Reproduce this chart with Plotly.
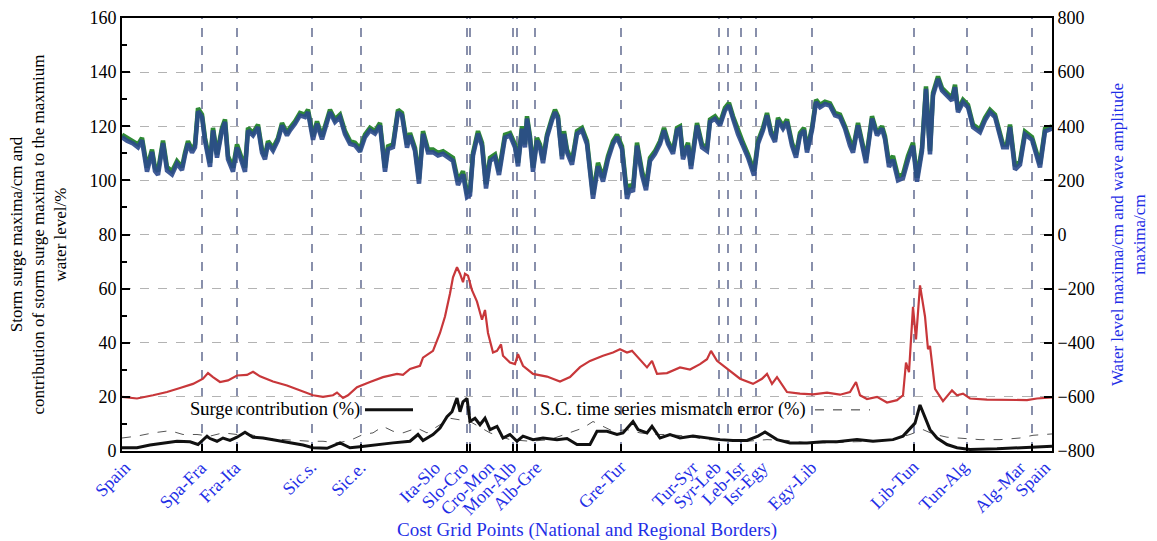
import plotly.graph_objects as go

# ---------------- data (x = coast grid point index) ----------------
wl_x = [0, 5, 11, 16, 20, 25, 30, 33, 36, 41, 45, 50, 55, 60, 63, 66, 70, 73, 76, 80,
        83, 88, 91, 95, 100, 103, 106, 111, 115, 118, 123, 126, 131, 136, 140, 143, 146, 151, 156, 160,
        165, 168, 173, 178, 183, 186, 191, 195, 200, 208, 213, 218, 223, 228, 233, 238, 243, 248, 253, 258,
        263, 266, 271, 276, 280, 285, 288, 293, 297, 301, 306, 311, 316, 321, 326, 331, 336, 341, 345, 348,
        351, 356, 360, 364, 368, 373, 377,
        383, 388, 393, 396, 400, 403, 405, 408, 411, 415, 418, 421, 425, 430, 433, 436, 440, 442, 445, 450,
        455, 460, 465, 471, 476, 481, 486, 491, 495, 500, 505, 508, 511, 515, 520, 524, 528, 533, 538, 542,
        546, 551, 555, 558, 561, 566, 569, 575, 580, 585, 588, 593, 598, 603, 607, 611, 616, 621, 626, 632,
        636, 641, 645, 649, 653, 656, 661, 665, 670, 674, 678, 682, 685, 690, 694, 698, 703, 708, 713, 718,
        723, 728, 731, 736, 740, 744, 750, 755, 760, 763, 767, 771, 776, 781, 786, 791, 795, 800, 804, 808,
        811, 816, 820, 825, 830, 833, 836, 841, 846, 851, 858, 863, 868, 873, 878, 881, 885, 888, 893, 898,
        903, 910, 918, 923, 930]

water_level_max = [369, 357, 345, 333, 357, 247, 314, 247, 234, 347, 249, 234, 271, 249, 302, 345, 314, 333, 467, 443,
                   357, 265, 394, 296, 394, 425, 290, 247, 333, 302, 247, 394, 375, 406, 314, 290, 345, 320, 357, 412,
                   375, 394, 418, 449, 443, 461, 363, 418, 363, 461, 425, 443, 382, 345, 339, 318, 369, 394, 382, 412,
                   247, 326, 333, 461, 449, 333, 375, 320, 204, 382, 314, 314, 302, 308, 296, 283, 198, 234, 155, 161,
                   302, 382, 339, 186, 283, 296, 234,
                   369, 375, 333, 265, 400, 333, 437, 363, 247, 357, 333, 277, 369, 431, 461, 437, 290, 382, 314, 271,
                   382, 394, 345, 148, 265, 210, 290, 345, 369, 326, 148, 185, 173, 339, 234, 179, 283, 308, 345, 394,
                   345, 308, 394, 400, 290, 339, 255, 412, 333, 320, 425, 437, 412, 468, 486, 437, 382, 339, 296, 234,
                   345, 394, 449, 382, 352, 431, 400, 425, 339, 296, 375, 394, 314, 394, 498, 479, 491, 485, 449, 443,
                   400, 339, 314, 412, 345, 277, 437, 375, 400, 363, 265, 290, 216, 222, 290, 339, 210, 320, 547, 308,
                   523, 584, 541, 523, 504, 553, 461, 498, 479, 406, 388, 431, 461, 443, 369, 333, 333, 406, 253, 270,
                   380, 360, 260, 390, 400]

wave_amp_max = [360, 346, 336, 322, 348, 232, 305, 234, 220, 338, 236, 222, 262, 238, 293, 336, 303, 322, 455, 434,
                346, 250, 385, 284, 385, 416, 278, 232, 322, 291, 232, 384, 366, 397, 303, 278, 336, 310, 348, 403,
                366, 385, 409, 440, 434, 452, 350, 409, 352, 452, 416, 434, 371, 335, 329, 306, 360, 385, 373, 403,
                232, 315, 323, 452, 440, 321, 366, 309, 188, 372, 303, 304, 292, 298, 285, 272, 183, 222, 138, 146,
                292, 372, 328, 170, 272, 286, 220,
                358, 366, 322, 252, 391, 322, 428, 352, 232, 347, 322, 264, 360, 422, 452, 428, 278, 372, 303, 258,
                372, 385, 334, 132, 252, 196, 278, 335, 360, 315, 132, 170, 158, 328, 220, 164, 272, 298, 335, 385,
                335, 298, 385, 391, 278, 329, 242, 403, 322, 309, 416, 428, 403, 459, 477, 428, 371, 328, 284, 218,
                335, 385, 440, 372, 342, 422, 391, 416, 328, 284, 366, 385, 303, 385, 489, 470, 482, 476, 440, 434,
                391, 328, 303, 403, 335, 264, 428, 366, 391, 352, 250, 276, 200, 208, 276, 328, 195, 309, 538, 296,
                514, 575, 532, 514, 495, 544, 452, 489, 470, 397, 378, 422, 452, 434, 358, 322, 322, 397, 240, 258,
                370, 350, 248, 381, 391]

contrib_x = [0, 15, 31, 45, 58, 71, 81, 86, 91, 98, 106, 115, 125, 131, 138, 151, 165, 178, 191, 201,
             211, 215, 221, 226, 235, 248, 261, 275, 281, 288, 298, 301, 311, 318, 323, 328, 331, 335, 338, 341,
             343, 346, 350, 355, 360, 363, 366, 371, 375, 379, 381, 388, 393, 396, 401, 411, 425, 438, 448, 458,
             468, 481, 491, 498, 505, 510, 516, 525, 530, 535, 545, 558, 568, 578, 585, 589, 595, 605, 618, 631,
             640, 645, 650, 655, 665, 678, 691, 705, 718, 728, 734, 738, 745, 755, 765, 775, 781, 784, 787, 791,
             794, 798, 803, 806, 808, 813, 821, 830, 835, 841, 848, 865, 885, 905, 915, 925, 930]
contribution_pct = [20.0, 19.4, 20.6, 21.8, 23.3, 24.8, 26.7, 28.8, 27.3, 25.5,
                    26.1, 27.9, 28.1, 29.3, 27.6, 25.7, 24.2, 22.4, 20.6, 20.0,
                    20.6, 21.6, 19.6, 20.6, 23.6, 25.5, 27.3, 28.5, 28.1, 30.3,
                    31.5, 34.5, 37.0, 43.6, 49.7, 58.2, 64.2, 67.9, 65.5, 62.4,
                    65.5, 64.8, 59.4, 55.2, 48.5, 52.1, 43.6, 36.4, 37.0, 39.4,
                    35.2, 32.7, 32.1, 35.8, 31.5, 28.5, 27.5, 25.7, 27.3, 31.0,
                    33.3, 35.2, 36.4, 37.6, 36.4, 37.0, 34.5, 30.9, 33.3, 28.5,
                    28.8, 30.9, 30.1, 32.1, 33.9, 37.0, 33.3, 30.3, 26.7, 24.8,
                    26.7, 28.5, 24.8, 27.3, 21.8, 21.2, 20.9, 21.6, 20.8, 21.8,
                    25.5, 20.6, 19.2, 20.0, 17.9, 18.8, 20.6, 32.7, 29.1, 53.3,
                    41.2, 61.2, 49.7, 37.6, 38.8, 23.0, 18.4, 22.4, 20.6, 21.2,
                    19.4, 19.0, 19.0, 18.8, 19.4, 19.6, 19.8]

surge_x = [0, 15, 28, 41, 55, 68, 76, 85, 88, 95, 101, 108, 115, 123, 131, 141, 155, 168, 181, 191,
           205, 218, 228, 238, 255, 271, 288, 296, 301, 311, 318, 325, 330, 335, 338, 341, 345, 348, 353, 358,
           363, 368, 375, 381, 388, 395, 401, 411, 421, 435, 445, 455, 468, 475, 485, 495, 501, 511, 516, 525,
           530, 538, 548, 558, 571, 585, 598, 611, 625, 636, 643, 655, 668, 685, 701, 715, 735, 751, 771, 781,
           788, 793, 798, 803, 808, 815, 825, 835, 848, 875, 898, 918, 930]
surge_contribution = [1.2, 1.2, 2.2, 3.0, 3.6, 3.4, 2.4, 5.5, 4.6, 3.6,
                      4.8, 3.9, 5.1, 6.9, 5.1, 4.8, 3.9, 3.0, 2.2, 1.2,
                      1.0, 3.0, 1.2, 1.6, 2.4, 3.0, 3.6, 6.1, 3.9, 6.1,
                      8.5, 12.7, 14.5, 19.6, 14.5, 18.2, 19.4, 10.9, 12.1, 9.7,
                      12.1, 7.9, 9.1, 4.8, 6.1, 3.6, 5.5, 4.2, 4.8, 4.2,
                      4.6, 2.4, 2.4, 7.3, 7.3, 6.1, 6.7, 10.9, 7.9, 6.7,
                      9.1, 4.8, 6.1, 4.8, 5.5, 4.8, 4.2, 3.9, 3.9, 5.5,
                      7.0, 4.2, 3.0, 3.0, 3.4, 3.4, 4.2, 3.6, 4.2, 5.5,
                      8.5, 10.3, 17.0, 12.1, 7.9, 4.8, 2.4, 1.2, 0.6, 0.8,
                      1.2, 1.5, 1.8]

mismatch_x = [0, 15, 31, 48, 61, 75, 88, 101, 115, 128, 145, 161, 175, 188, 201, 215, 228, 241, 251, 261,
              271, 281, 295, 305, 318, 328, 348, 368, 388, 408, 428, 448, 461, 471, 478, 491, 505, 518, 531, 545,
              565, 585, 605, 625, 645, 665, 685, 708, 731, 751, 771, 788, 801, 811, 825, 841, 858, 878, 898, 911,
              930]
mismatch_error = [4.8, 5.5, 6.7, 7.5, 6.1, 6.1, 5.5, 6.7, 6.1, 6.1,
                  4.6, 4.2, 3.9, 3.6, 3.6, 3.0, 3.9, 6.1, 6.7, 9.1,
                  7.3, 6.7, 8.5, 6.7, 9.7, 12.1, 10.9, 6.7, 4.2, 3.6,
                  4.2, 6.7, 8.5, 10.9, 9.7, 7.3, 7.9, 6.7, 6.1, 6.1,
                  5.5, 4.2, 3.9, 3.6, 4.2, 3.9, 3.0, 3.0, 3.4, 3.6,
                  4.2, 6.1, 7.9, 6.3, 5.1, 4.6, 4.2, 4.2, 4.8, 5.8,
                  6.3]

border_x = [80, 115, 190, 239, 345, 348, 391, 395, 413, 499, 597, 606, 619, 634, 690, 792, 845, 910]
label_x = [10, 86, 120, 196, 245, 320, 348, 374, 396, 421, 505, 578, 601, 625, 648, 696, 798, 848, 905, 930]
label_text = ["Spain", "Spa-Fra", "Fra-Ita", "Sic.s.", "Sic.e.", "Ita-Slo", "Slo-Cro", "Cro-Mon", "Mon-Alb",
              "Alb-Gre", "Gre-Tur", "Tur-Syr", "Syr-Leb", "Leb-Isr", "Isr-Egy", "Egy-Lib", "Lib-Tun",
              "Tun-Alg", "Alg-Mar", "Spain"]

# ---------------- figure ----------------
FONT = "Liberation Serif, Times New Roman, serif"
BLUE = "#1f2fe6"

fig = go.Figure()
fig.add_trace(go.Scatter(x=wl_x, y=water_level_max, yaxis="y2", mode="lines",
                         line=dict(color="#2f8a35", width=4.5), name="Water level maxima"))
fig.add_trace(go.Scatter(x=wl_x, y=wave_amp_max, yaxis="y2", mode="lines",
                         line=dict(color="#2b4a8c", width=4.5), opacity=0.9, name="Wave amplitude maxima"))
fig.add_trace(go.Scatter(x=contrib_x, y=contribution_pct, mode="lines",
                         line=dict(color="#c8373a", width=2.2), name="Contribution"))
fig.add_trace(go.Scatter(x=mismatch_x, y=mismatch_error, mode="lines",
                         line=dict(color="#555555", width=1, dash="dash"), name="S.C. mismatch"))
fig.add_trace(go.Scatter(x=surge_x, y=surge_contribution, mode="lines",
                         line=dict(color="#111111", width=3), name="Surge contribution"))

shapes = []
for bx in border_x:
    shapes.append(dict(type="line", xref="x", yref="paper", x0=bx, x1=bx, y0=0, y1=1,
                       line=dict(color="#3b4775", width=1.2, dash="dash"), layer="below"))
# inline legend samples
shapes.append(dict(type="line", xref="x", yref="y", x0=243, x1=291, y0=15.2, y1=15.2,
                   line=dict(color="#111111", width=3)))
shapes.append(dict(type="line", xref="x", yref="y", x0=693, x1=748, y0=15.2, y1=15.2,
                   line=dict(color="#333333", width=1, dash="dash")))

annotations = [
    dict(x=240, y=15.5, xref="x", yref="y", text="Surge contribution (%)", showarrow=False,
         xanchor="right", yanchor="middle", font=dict(size=18.5, color="black", family=FONT)),
    dict(x=686, y=15.5, xref="x", yref="y", text="S.C. time series mismatch error (%)", showarrow=False,
         xanchor="right", yanchor="middle", font=dict(size=18.5, color="black", family=FONT)),
    dict(x=0.5, y=-0.182, xref="paper", yref="paper", text="Cost Grid Points (National and Regional Borders)",
         showarrow=False, xanchor="center", yanchor="middle", font=dict(size=19, color=BLUE, family=FONT)),
]
for lx, lt in zip(label_x, label_text):
    annotations.append(dict(x=lx, y=-0.008, xref="x", yref="paper", text=lt, showarrow=False,
                            textangle=-45, xanchor="right", yanchor="top", xshift=5,
                            font=dict(size=18, color=BLUE, family=FONT)))

fig.update_layout(
    width=1157, height=541,
    margin=dict(l=122, r=105, t=18, b=90, autoexpand=False),
    paper_bgcolor="white", plot_bgcolor="white",
    font=dict(family=FONT, size=18, color="black"),
    showlegend=False,
    shapes=shapes,
    annotations=annotations,
    xaxis=dict(range=[0, 930], tickmode="array", tickvals=border_x, showticklabels=False,
               ticks="inside", ticklen=7, tickwidth=2, tickcolor="black",
               showgrid=False, zeroline=False, showline=True, linecolor="black", linewidth=2, mirror=True,
               automargin=False),
    yaxis=dict(range=[0, 160], dtick=20, tick0=0, ticks="inside", ticklen=8, tickwidth=2,
               tickcolor="black", tickfont=dict(size=18, family=FONT),
               minor=dict(dtick=10, ticks="inside", ticklen=5, tickwidth=2, tickcolor="black", showgrid=False),
               showgrid=True, gridcolor="#b3b3b3", griddash="dash", gridwidth=1, zeroline=False,
               showline=True, linecolor="black", linewidth=2, automargin=False,
               title=dict(text="Storm surge maxima/cm and<br>contribution of storm surge maxima to the maxmium<br>water level/%",
                          font=dict(size=17, family=FONT, color="black"), standoff=18)),
    yaxis2=dict(range=[-800, 800], dtick=200, tick0=0, overlaying="y", side="right",
                ticks="inside", ticklen=8, tickwidth=2, tickcolor="black",
                tickfont=dict(size=18, family=FONT), showgrid=False, zeroline=False,
                showline=True, linecolor="black", linewidth=2, automargin=False,
                title=dict(text="Water level maxima/cm and wave amplitude<br>maxima/cm",
                           font=dict(size=17, family=FONT, color=BLUE), standoff=17)),
)

fig.write_html("out.html", config={"displayModeBar": False})

# remove the default page margin so the figure sits at the window's top-left corner
with open("out.html", "r", encoding="utf-8") as fh:
    page = fh.read()
page = page.replace("<body>", '<body style="margin:0;padding:0;overflow:hidden">', 1)
with open("out.html", "w", encoding="utf-8") as fh:
    fh.write(page)
